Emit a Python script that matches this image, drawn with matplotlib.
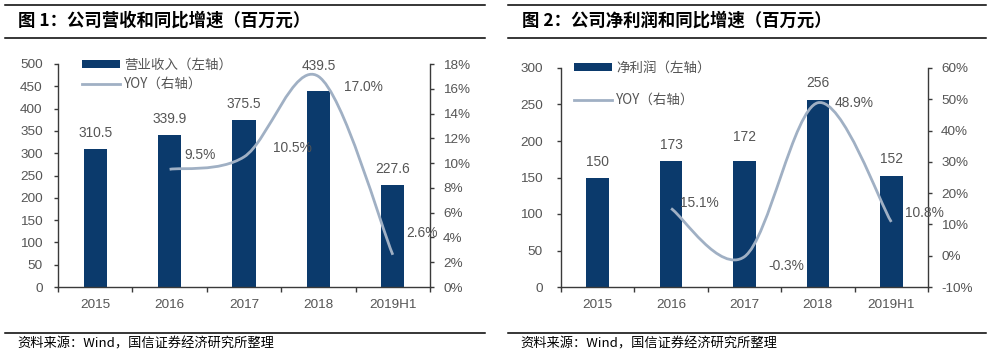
import matplotlib
matplotlib.use("Agg")
import matplotlib.pyplot as plt
from matplotlib.path import Path
from matplotlib.patches import PathPatch, Patch
from matplotlib.lines import Line2D
from matplotlib.ticker import FuncFormatter, MultipleLocator
import numpy as np

plt.rcParams['font.family'] = ['Liberation Sans', 'Noto Sans CJK SC']

categories = ['2015', '2016', '2017', '2018', '2019H1']

revenue = [310.5, 339.9, 375.5, 439.5, 227.6]
revenue_yoy = [None, 9.5, 10.5, 17.0, 2.6]

profit = [150, 173, 172, 256, 152]
profit_yoy = [None, 15.1, -0.3, 48.9, 10.8]

title1 = '图 1：公司营收和同比增速（百万元）'
title2 = '图 2：公司净利润和同比增速（百万元）'
legend1 = ['营业收入（左轴）', 'YOY（右轴）']
legend2 = ['净利润（左轴）', 'YOY（右轴）']
source = '资料来源：Wind，国信证券经济研究所整理'

BAR = '#0B3A6C'
LINE = '#A0B0C4'
TXT = '#555555'
SPINE = '#3A3A3A'
FS = 9.7
W, H = 992, 356

fig = plt.figure(figsize=(W / 100, H / 100), dpi=100)


def smooth_path(xs, ys):
    pts = list(zip(xs, ys))
    n = len(pts)
    verts = [pts[0]]
    codes = [Path.MOVETO]
    for i in range(n - 1):
        p0 = np.array(pts[i - 1] if i > 0 else pts[i], float)
        p1 = np.array(pts[i], float)
        p2 = np.array(pts[i + 1], float)
        p3 = np.array(pts[i + 2] if i + 2 < n else pts[i + 1], float)
        c1 = p1 + (p2 - p0) / 6.0
        c2 = p2 - (p3 - p1) / 6.0
        verts += [tuple(c1), tuple(c2), tuple(p2)]
        codes += [Path.CURVE4] * 3
    return Path(verts, codes)


def panel(rect, vals, yoy, ymax, ystep, pmin, pmax, pstep, leg_labels,
          leg_x, leg_ys, lpad, rpad, bar_off, yoy_off, fmt):
    ax = fig.add_axes([rect[0] / W, 1 - rect[3] / H, (rect[2] - rect[0]) / W,
                       (rect[3] - rect[1]) / H])
    x = np.arange(len(categories))
    ax.bar(x, vals, width=0.31, color=BAR, zorder=2)
    ax.set_xlim(-0.5, len(categories) - 0.5)
    ax.set_ylim(0, ymax)
    ax.yaxis.set_major_locator(MultipleLocator(ystep))
    ax.set_xticks(x)
    ax.set_xticklabels(categories)
    ax.set_xticks(np.arange(len(categories) + 1) - 0.5, minor=True)
    ax.tick_params(axis='x', which='major', length=0, pad=9, labelsize=FS, labelcolor=TXT)
    ax.tick_params(axis='x', which='minor', length=3.5, width=1.0, color=SPINE, direction='out')
    ax.tick_params(axis='y', length=3, width=1.0, color=SPINE, labelsize=FS, labelcolor=TXT, pad=lpad)
    for s in ['top', 'right']:
        ax.spines[s].set_visible(False)
    for s in ['left', 'bottom']:
        ax.spines[s].set_color(SPINE)
        ax.spines[s].set_linewidth(1.0)
    for i, v in enumerate(vals):
        ax.annotate(fmt.format(v), (x[i], v),
                    xytext=(0, bar_off[i]), textcoords='offset pixels',
                    ha='center', va='center', fontsize=FS + 0.2, color=TXT)

    ax2 = ax.twinx()
    ax2.set_ylim(pmin, pmax)
    ax2.yaxis.set_major_locator(MultipleLocator(pstep))
    ax2.yaxis.set_major_formatter(FuncFormatter(lambda v, p: f'{v:.0f}%'))
    ax2.tick_params(axis='y', length=3, width=1.0, color=SPINE, labelsize=FS, labelcolor=TXT, pad=rpad)
    for s in ['top', 'left', 'bottom']:
        ax2.spines[s].set_visible(False)
    ax2.spines['right'].set_color(SPINE)
    ax2.spines['right'].set_linewidth(1.0)
    xs = [i for i, v in enumerate(yoy) if v is not None]
    ys = [v for v in yoy if v is not None]
    path = smooth_path(xs, ys)
    ax2.add_patch(PathPatch(path, facecolor='none', edgecolor=LINE, lw=2.0,
                            capstyle='butt', zorder=3))
    for j, (xi, yi) in enumerate(zip(xs, ys)):
        dx, dy = yoy_off[j]
        ax2.annotate(f'{yi:.1f}%', (xi, yi), xytext=(dx, dy), textcoords='offset pixels',
                     ha='center', va='center', fontsize=FS + 0.2, color=TXT, zorder=4)

    handles = [Patch(facecolor=BAR, edgecolor='none'),
               Line2D([], [], color=LINE, lw=2.0)]
    for h, lab, ly in zip(handles, leg_labels, leg_ys):
        leg = fig.legend([h], [lab], loc='center left',
                         bbox_to_anchor=(leg_x / W, 1 - ly / H),
                         bbox_transform=fig.transFigure,
                         frameon=False, fontsize=FS, handlelength=2.8,
                         handleheight=0.5, handletextpad=0.35, borderpad=0,
                         borderaxespad=0)
        for t in leg.get_texts():
            t.set_family(['Noto Sans CJK SC'])
            t.set_color(TXT)
    return ax, ax2


panel([58, 64, 430, 287], revenue, revenue_yoy, 500, 50,
      0, 18, 2, legend1, 82, [65, 84], 8, 6.5,
      [16, 16, 16, 25, 16], [(30, 14), (48, 9), (45, -11), (29, 22)], '{:.1f}')

panel([561, 68, 928, 287], profit, profit_yoy, 300, 50,
      -10, 60, 10, legend2, 574, [68, 100], 10, 6.5,
      [15, 16, 24, 17, 17], [(28, 5), (42, -9), (36, 0), (33, 9)], '{:d}')

# rules
for (x0, x1) in [(5, 485), (508, 986)]:
    for y in [4.5, 38, 333]:
        fig.add_artist(Line2D([x0 / W, x1 / W], [1 - y / H, 1 - y / H],
                              color='black', lw=1.1, transform=fig.transFigure))

fig.text(18 / W, 1 - 21 / H, title1, fontsize=12.5, fontweight='bold',
         family=['Noto Sans CJK SC'], va='center', ha='left', color='black')
fig.text(522 / W, 1 - 21 / H, title2, fontsize=12.5, fontweight='bold',
         family=['Noto Sans CJK SC'], va='center', ha='left', color='black')
fig.text(17 / W, 1 - 344 / H, source, fontsize=9.5, family=['Noto Sans CJK SC'],
         va='center', ha='left', color='black')
fig.text(520 / W, 1 - 344 / H, source, fontsize=9.5, family=['Noto Sans CJK SC'],
         va='center', ha='left', color='black')

fig.savefig('out.png', dpi=100, facecolor='white')
